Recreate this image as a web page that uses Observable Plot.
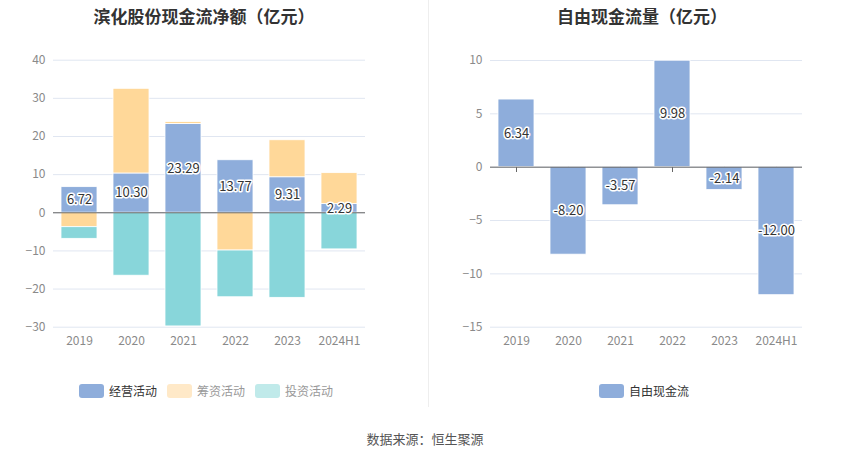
<!DOCTYPE html>
<html><head><meta charset="utf-8">
<script src="https://cdn.jsdelivr.net/npm/d3@7"></script>
<script src="https://cdn.jsdelivr.net/npm/@observablehq/plot@0.6"></script>
<style>
body{margin:0;width:850px;height:459px;position:relative;background:#fff;font-family:"Noto Sans CJK SC","Noto Sans",sans-serif;overflow:hidden}
.abs{position:absolute}
.title{font-size:17px;font-weight:bold;color:#333;top:3px;text-align:center;white-space:nowrap}
.legend{top:382px;display:flex;align-items:center;font-size:12px;white-space:nowrap}
.sw{width:25px;height:14px;border-radius:3px;display:inline-block;margin-right:5px}
.item{display:flex;align-items:center;margin-right:10px}
</style></head>
<body>
<div id="divider" class="abs" style="left:428px;top:0;width:1px;height:407px;background:#eeeeee"></div>
<div class="abs title" style="left:0;width:408px">滨化股份现金流净额（亿元）</div>
<div class="abs title" style="left:428px;width:428px">自由现金流量（亿元）</div>
<div id="left" class="abs" style="left:0;top:0"></div>
<div id="right" class="abs" style="left:428px;top:0"></div>
<div id="legL" class="abs legend" style="left:79px"></div>
<div id="legR" class="abs legend" style="left:599px"></div>
<div class="abs" style="left:0;width:850px;top:429px;text-align:center;font-size:13px;color:#555">数据来源：恒生聚源</div>
<script>
const years = ["2019","2020","2021","2022","2023","2024H1"];
const operating = [6.72, 10.30, 23.29, 13.77, 9.31, 2.29];
const financing = [-3.78, 22.2, 0.5, -9.9, 9.7, 8.1];
const investing = [-3.05, -16.5, -29.8, -12.25, -22.3, -9.6];
const freeCash = [6.34, -8.20, -3.57, 9.98, -2.14, -12.00];
const seriesNames = ["经营活动","筹资活动","投资活动"];
const barColors = ["#8EADDB","#FFD899","#88D6DA"];
const legendColors = ["#8EADDB","#FFE9C8","#C0EAEA"];
const legendTextColors = ["#333","#999","#999"];
const leftTicks = [-30,-20,-10,0,10,20,30,40];
const rightTicks = [-15,-10,-5,0,5,10];
const freeName = "自由现金流";

const rows = [];
[operating, financing, investing].forEach((arr, s) => {
  arr.forEach((v, i) => rows.push({year: years[i], series: seriesNames[s], value: v}));
});

const font = '"Noto Sans CJK SC","Noto Sans",sans-serif';
const common = {
  height: 360,
  style: {fontFamily: font, fontSize: "12px", color: "#8a8a8a", background: "transparent", overflow: "visible"},
};

const left = Plot.plot({
  ...common,
  width: 428,
  marginTop: 59.7, marginBottom: 33.3, marginLeft: 53, marginRight: 63,
  x: {domain: years, paddingInner: 0.31, paddingOuter: 0.155, label: null},
  y: {domain: [-30, 40], label: null},
  color: {domain: seriesNames, range: barColors},
  marks: [
    Plot.gridY(leftTicks, {stroke: "#E0E6F1", strokeOpacity: 1}),
    Plot.axisY(leftTicks, {tickSize: 0, tickPadding: 8, label: null, fontSize: 12}),
    Plot.axisX({tickSize: 0, tickPadding: 9, label: null, fontSize: 12}),
    Plot.barY(rows, {x: "year", y: "value", fill: "series", stroke: "white", strokeWidth: 0.8}),
    Plot.ruleY([0], {stroke: "#666"}),
    Plot.text(years, {x: d => d, y: (d, i) => operating[i] / 2, text: (d, i) => operating[i].toFixed(2),
      fill: "#333", stroke: "white", strokeWidth: 3, fontSize: 13})
  ]
});
document.getElementById("left").appendChild(left);

const right = Plot.plot({
  ...common,
  width: 422,
  marginTop: 60, marginBottom: 33.3, marginLeft: 62, marginRight: 48,
  x: {domain: years, paddingInner: 0.31, paddingOuter: 0.155, label: null},
  y: {domain: [-15, 10], label: null},
  marks: [
    Plot.gridY(rightTicks, {stroke: "#E0E6F1", strokeOpacity: 1}),
    Plot.axisY(rightTicks, {tickSize: 0, tickPadding: 8, label: null, fontSize: 12}),
    Plot.axisX({tickSize: 0, tickPadding: 9, label: null, fontSize: 12}),
    Plot.ruleX(years, {x: d => d, y1: 0, y2: -0.5, stroke: "#666"}),
    Plot.barY(years, {x: d => d, y: (d, i) => freeCash[i], fill: barColors[0], stroke: "white", strokeWidth: 0.8}),
    Plot.ruleY([0], {stroke: "#666"}),
    Plot.text(years, {x: d => d, y: (d, i) => freeCash[i] / 2, text: (d, i) => freeCash[i].toFixed(2),
      fill: "#333", stroke: "white", strokeWidth: 3, fontSize: 13})
  ]
});
document.getElementById("right").appendChild(right);

const legL = document.getElementById("legL");
seriesNames.forEach((n, i) => {
  const it = document.createElement("div"); it.className = "item";
  it.innerHTML = `<span class="sw" style="background:${legendColors[i]}"></span><span style="color:${legendTextColors[i]}">${n}</span>`;
  legL.appendChild(it);
});
const legR = document.getElementById("legR");
const it = document.createElement("div"); it.className = "item";
it.innerHTML = `<span class="sw" style="background:${barColors[0]}"></span><span style="color:#333">${freeName}</span>`;
legR.appendChild(it);
</script>
</body></html>
